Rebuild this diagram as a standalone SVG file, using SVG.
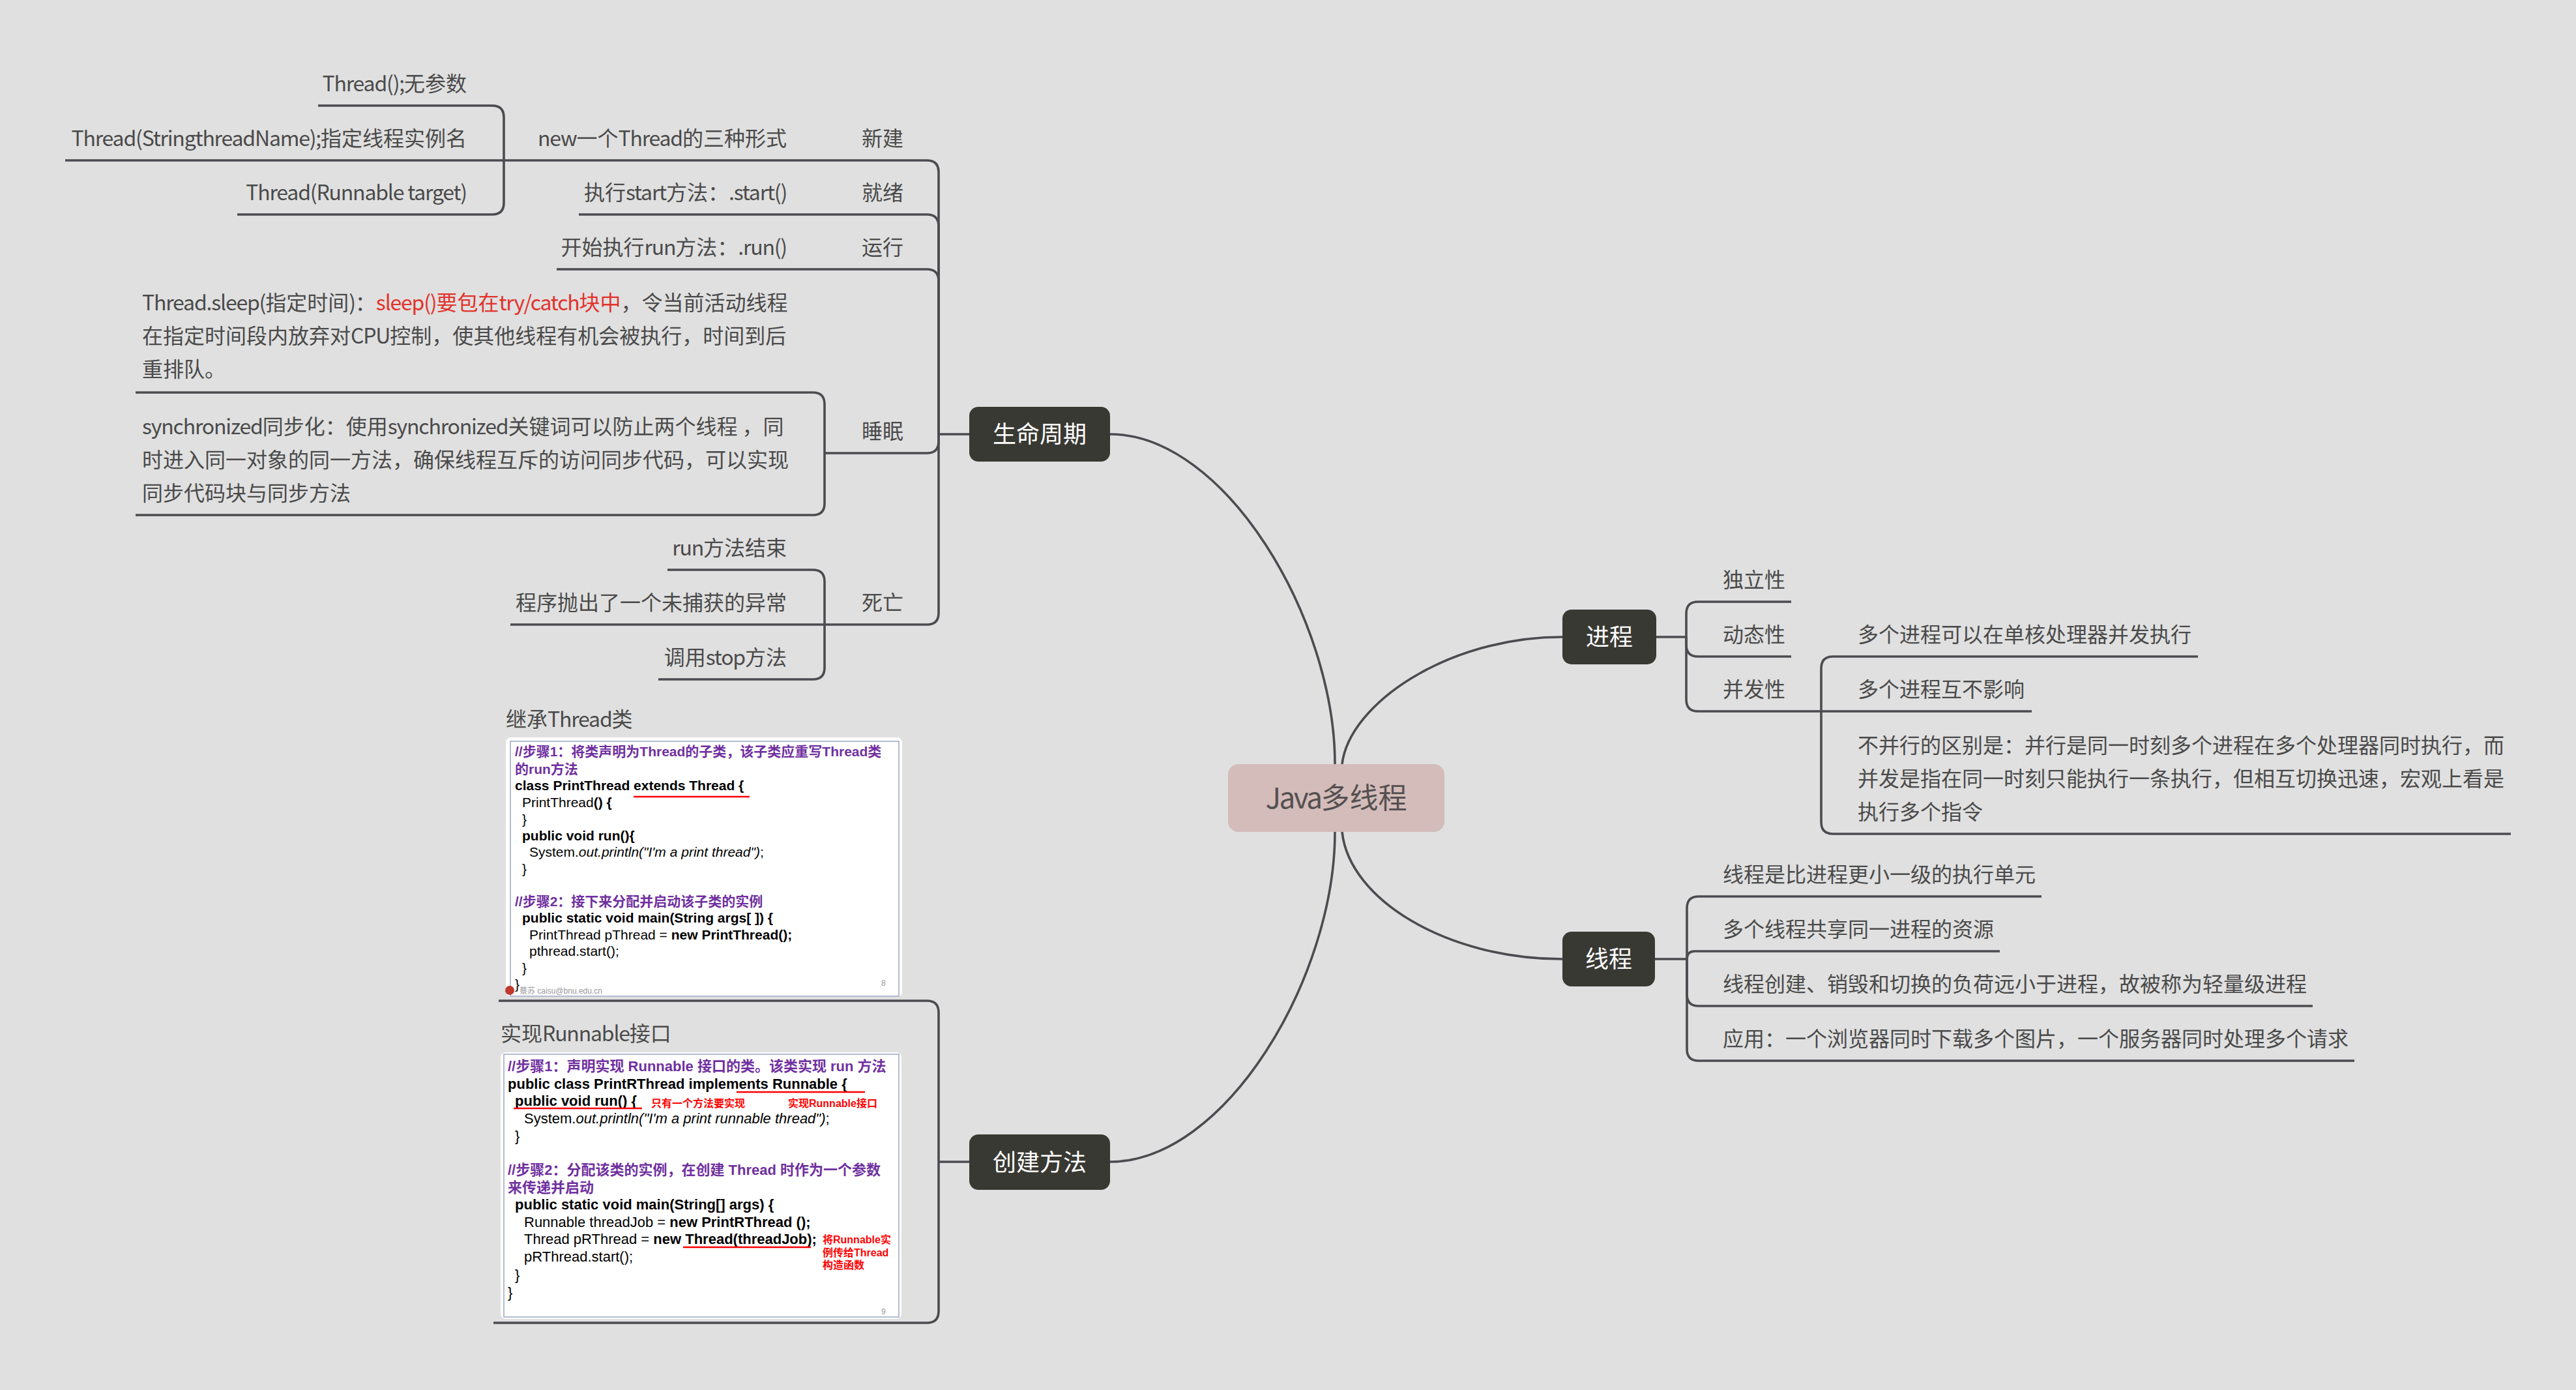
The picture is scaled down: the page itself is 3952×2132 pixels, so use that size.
<svg xmlns="http://www.w3.org/2000/svg" width="3952" height="2132" viewBox="0 0 3952 2132">
<style>
.ln{fill:none;stroke:#4b4b50;stroke-width:3.6}
.t{font-family:"Noto Sans CJK SC","Liberation Sans",sans-serif;font-size:32px;fill:#4a4a4a}
.e{text-anchor:end}
.l{letter-spacing:-1.2px}
.nd{fill:#393933}
.nt{font-family:"Noto Sans CJK SC","Liberation Sans",sans-serif;font-size:36px;fill:#ffffff;text-anchor:middle}
.code{font-family:"Liberation Sans","Noto Sans CJK SC",sans-serif;font-size:21px;fill:#000}
.c2{font-size:22px}
.b{font-weight:bold}
.i{font-style:italic}
.p{fill:#7030a0;font-weight:bold}
.r{fill:#ff0000;font-weight:bold;font-size:16px}
.ul{stroke:#ff0000;stroke-width:2.5}
.slide{fill:#ffffff}
.frame{fill:none;stroke:#9aa7c2;stroke-width:1.5}
.ft{font-family:"Liberation Sans","Noto Sans CJK SC",sans-serif;font-size:12px;fill:#999}
</style>
<rect width="3952" height="2132" fill="#e0e0e0"/>

<g id="connectors">
  <path class="ln" d="M1703 666 C1880 666 2048 950 2048 1172"/>
  <path class="ln" d="M2059 1172 C2070 1080 2220 977 2397 977"/>
  <path class="ln" d="M2048 1276 C2048 1500 1880 1782 1703 1782"/>
  <path class="ln" d="M2059 1276 C2070 1380 2220 1471 2397 1471"/>
  <path class="ln" d="M1440 666 H1487"/>
  <path class="ln" d="M100 246 H1422 Q1440 246 1440 264 V666"/>
  <path class="ln" d="M888 329 H1422 Q1440 329 1440 347 V666"/>
  <path class="ln" d="M854 413 H1422 Q1440 413 1440 431 V666"/>
  <path class="ln" d="M1265 695 H1422 Q1440 695 1440 677 V666"/>
  <path class="ln" d="M783 958 H1422 Q1440 958 1440 940 V666"/>
  <path class="ln" d="M488 162 H755 Q773 162 773 180 V246"/>
  <path class="ln" d="M364 329 H755 Q773 329 773 311 V246"/>
  <path class="ln" d="M208 602 H1247 Q1265 602 1265 620 V695"/>
  <path class="ln" d="M208 790 H1247 Q1265 790 1265 772 V695"/>
  <path class="ln" d="M1024 874 H1247 Q1265 874 1265 892 V958"/>
  <path class="ln" d="M1010 1042 H1247 Q1265 1042 1265 1024 V958"/>
  <path class="ln" d="M1440 1782 H1487"/>
  <path class="ln" d="M765 1535 H1422 Q1440 1535 1440 1553 V1782"/>
  <path class="ln" d="M757 2029 H1422 Q1440 2029 1440 2011 V1782"/>
  <path class="ln" d="M2541 977 H2587"/>
  <path class="ln" d="M2587 977 V941 Q2587 923 2605 923 H2748"/>
  <path class="ln" d="M2587 977 V989 Q2587 1007 2605 1007 H2748"/>
  <path class="ln" d="M2587 977 V1073 Q2587 1091 2605 1091 H3117"/>
  <path class="ln" d="M2794 1091 V1025 Q2794 1007 2812 1007 H3372"/>
  <path class="ln" d="M2794 1091 V1261 Q2794 1279 2812 1279 H3852"/>
  <path class="ln" d="M2539 1471 H2588"/>
  <path class="ln" d="M2588 1471 V1393 Q2588 1375 2606 1375 H3132"/>
  <path class="ln" d="M2588 1471 Q2588 1459 2600 1459 H3068"/>
  <path class="ln" d="M2588 1471 V1525 Q2588 1543 2606 1543 H3548"/>
  <path class="ln" d="M2588 1471 V1609 Q2588 1627 2606 1627 H3612"/>
</g>

<g id="center">
  <rect x="1884" y="1172" width="332" height="104" rx="16" fill="#d3bcba"/>
  <text x="2050" y="1240" font-family="Noto Sans CJK SC, sans-serif" font-size="44" fill="#555050" text-anchor="middle"><tspan letter-spacing="-2.5">Java</tspan>多线程</text>
</g>

<g id="lifecycle">
  <rect class="nd" x="1487" y="624" width="216" height="84" rx="14"/>
  <text class="nt" x="1595" y="679">生命周期</text>
</g>
<g id="process">
  <rect class="nd" x="2397" y="935" width="144" height="84" rx="14"/>
  <text class="nt" x="2469" y="990">进程</text>
</g>
<g id="thread">
  <rect class="nd" x="2397" y="1429" width="142" height="84" rx="14"/>
  <text class="nt" x="2468" y="1484">线程</text>
</g>
<g id="create">
  <rect class="nd" x="1487" y="1740" width="216" height="85" rx="14"/>
  <text class="nt" x="1595" y="1796">创建方法</text>
</g>

<g id="lc-new">
  <text class="t" x="1322" y="224">新建</text>
  <text class="t e" x="1207" y="224"><tspan class="l">new</tspan>一个<tspan class="l">Thread</tspan>的三种形式</text>
  <text class="t e" x="716" y="140"><tspan class="l">Thread();</tspan>无参数</text>
  <text class="t e" x="716" y="224"><tspan class="l">Thread(StringthreadName);</tspan>指定线程实例名</text>
  <text class="t e l" x="716" y="307">Thread(Runnable target)</text>
</g>
<g id="lc-ready">
  <text class="t" x="1322" y="307">就绪</text>
  <text class="t e" x="1207" y="307">执行<tspan class="l">start</tspan>方法：<tspan class="l">.start()</tspan></text>
</g>
<g id="lc-run">
  <text class="t" x="1322" y="391">运行</text>
  <text class="t e" x="1207" y="391">开始执行<tspan class="l">run</tspan>方法：<tspan class="l">.run()</tspan></text>
</g>
<g id="lc-sleep">
  <text class="t" x="1322" y="673">睡眠</text>
  <text class="t" x="218" y="476"><tspan class="l">Thread.sleep(</tspan>指定时间<tspan class="l">)</tspan>：<tspan fill="#e3322b"><tspan class="l">sleep()</tspan>要包在<tspan class="l">try/catch</tspan>块中</tspan>，令当前活动线程</text>
  <text class="t" x="218" y="527">在指定时间段内放弃对<tspan class="l">CPU</tspan>控制，使其他线程有机会被执行，时间到后</text>
  <text class="t" x="218" y="578">重排队。</text>
  <text class="t" x="218" y="666"><tspan class="l">synchronized</tspan>同步化：使用<tspan class="l">synchronized</tspan>关键词可以防止两个线程 ，同</text>
  <text class="t" x="218" y="717">时进入同一对象的同一方法，确保线程互斥的访问同步代码，可以实现</text>
  <text class="t" x="218" y="768">同步代码块与同步方法</text>
</g>
<g id="lc-dead">
  <text class="t" x="1322" y="936">死亡</text>
  <text class="t e" x="1207" y="852"><tspan class="l">run</tspan>方法结束</text>
  <text class="t e" x="1207" y="936">程序抛出了一个未捕获的异常</text>
  <text class="t e" x="1207" y="1020">调用<tspan class="l">stop</tspan>方法</text>
</g>

<g id="cr-thread">
  <text class="t" x="776" y="1115">继承<tspan class="l">Thread</tspan>类</text>
  <rect class="slide" x="776" y="1131" width="608" height="398" rx="8"/>
  <rect class="frame" x="783" y="1137" width="596" height="391"/>
  <g class="code">
    <text class="p" x="790" y="1160">//步骤1：将类声明为Thread的子类，该子类应重写Thread类</text>
    <text class="p" x="790" y="1187">的run方法</text>
    <text class="b" x="790" y="1212">class PrintThread extends Thread {</text>
    <line class="ul" x1="972" y1="1222" x2="1150" y2="1222"/>
    <text x="801" y="1238">PrintThread<tspan class="b">() {</tspan></text>
    <text x="801" y="1264">}</text>
    <text class="b" x="801" y="1289">public void run(){</text>
    <text x="812" y="1314">System.<tspan class="i">out.println("I'm a print thread")</tspan>;</text>
    <text x="801" y="1340">}</text>
    <text class="p" x="790" y="1390">//步骤2：接下来分配并启动该子类的实例</text>
    <text class="b" x="801" y="1415">public static void main(String args[ ]) {</text>
    <text x="812" y="1441">PrintThread pThread = <tspan class="b">new PrintThread();</tspan></text>
    <text x="812" y="1466">pthread.start();</text>
    <text x="801" y="1492">}</text>
    <text x="790" y="1517">}</text>
  </g>
  <circle cx="782" cy="1519" r="7" fill="#c0392b"/>
  <text class="ft" x="797" y="1524">蔡苏  caisu@bnu.edu.cn</text>
  <text class="ft" x="1352" y="1512">8</text>
</g>

<g id="cr-runnable">
  <text class="t" x="768" y="1597">实现<tspan class="l">Runnable</tspan>接口</text>
  <rect class="slide" x="768" y="1614" width="615" height="409" rx="8"/>
  <rect class="frame" x="773" y="1617" width="606" height="403"/>
  <g class="code c2">
    <text class="p" x="779" y="1643">//步骤1：声明实现 Runnable 接口的类。该类实现 run 方法</text>
    <text class="b" x="779" y="1670">public class PrintRThread implements Runnable {</text>
    <line class="ul" x1="1130" y1="1675" x2="1327" y2="1675"/>
    <text class="b" x="790" y="1696">public void run() {</text>
    <line class="ul" x1="788" y1="1700" x2="985" y2="1700"/>
    <text class="r" x="999" y="1698">只有一个方法要实现</text>
    <text class="r" x="1209" y="1698">实现Runnable接口</text>
    <text x="804" y="1723">System.<tspan class="i">out.println("I'm a print runnable thread")</tspan>;</text>
    <text x="790" y="1750">}</text>
    <text class="p" x="779" y="1802">//步骤2：分配该类的实例，在创建 Thread 时作为一个参数</text>
    <text class="p" x="779" y="1829">来传递并启动</text>
    <text class="b" x="790" y="1855">public static void main(String[] args) {</text>
    <text x="804" y="1882">Runnable threadJob = <tspan class="b">new PrintRThread ();</tspan></text>
    <text x="804" y="1908">Thread pRThread = <tspan class="b">new Thread(threadJob);</tspan></text>
    <line class="ul" x1="1048" y1="1913" x2="1244" y2="1913"/>
    <text class="r" x="1262" y="1907">将Runnable实</text>
    <text class="r" x="1262" y="1927">例传给Thread</text>
    <text class="r" x="1262" y="1946">构造函数</text>
    <text x="804" y="1935">pRThread.start();</text>
    <text x="790" y="1963">}</text>
    <text x="779" y="1990">}</text>
  </g>
  <text class="ft" x="1352" y="2016">9</text>
</g>

<g id="pr-children">
  <text class="t" x="2643" y="901">独立性</text>
  <text class="t" x="2643" y="985">动态性</text>
  <text class="t" x="2643" y="1069">并发性</text>
  <text class="t" x="2850" y="985">多个进程可以在单核处理器并发执行</text>
  <text class="t" x="2850" y="1069">多个进程互不影响</text>
  <text class="t" x="2850" y="1155">不并行的区别是：并行是同一时刻多个进程在多个处理器同时执行，而</text>
  <text class="t" x="2850" y="1206">并发是指在同一时刻只能执行一条执行，但相互切换迅速，宏观上看是</text>
  <text class="t" x="2850" y="1257">执行多个指令</text>
</g>

<g id="th-children">
  <text class="t" x="2643" y="1353">线程是比进程更小一级的执行单元</text>
  <text class="t" x="2643" y="1437">多个线程共享同一进程的资源</text>
  <text class="t" x="2643" y="1521">线程创建、销毁和切换的负荷远小于进程，故被称为轻量级进程</text>
  <text class="t" x="2643" y="1605">应用：一个浏览器同时下载多个图片，一个服务器同时处理多个请求</text>
</g>
</svg>
